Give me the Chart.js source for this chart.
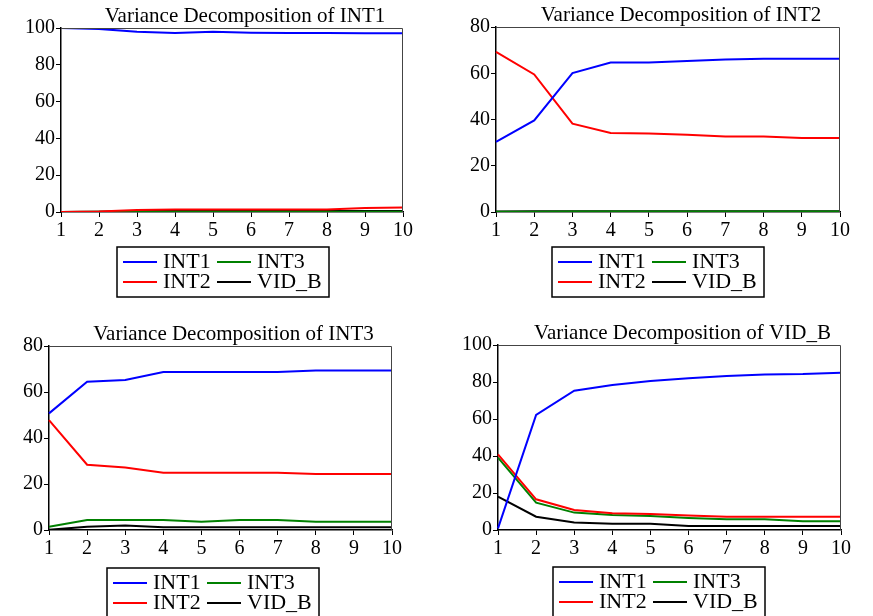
<!DOCTYPE html>
<html>
<head>
<meta charset="utf-8">
<script src="https://cdn.jsdelivr.net/npm/chart.js@4.4.1/dist/chart.umd.min.js"></script>
<style>
  body { margin: 0; background: #fff; }
  #wrap { position: relative; width: 873px; height: 616px; overflow: hidden; }
  canvas { position: absolute; }
</style>
</head>
<body>
<div id="wrap">
  <canvas id="c1" width="436" height="308" style="left:0;top:0"></canvas>
  <canvas id="c2" width="437" height="308" style="left:436px;top:0"></canvas>
  <canvas id="c3" width="436" height="308" style="left:0;top:308px"></canvas>
  <canvas id="c4" width="437" height="308" style="left:436px;top:308px"></canvas>
</div>
<script>
// periods on the x axis
const periods = ['1', '2', '3', '4', '5', '6', '7', '8', '9', '10'];
const seriesNames = ['INT1', 'INT2', 'INT3', 'VID_B'];
const seriesColors = ['#0000ff', '#ff0000', '#008000', '#000000'];

// Variance Decomposition of INT1
const int1_INT1 = [100, 99.5, 98.0, 97.3, 97.9, 97.4, 97.3, 97.3, 97.2, 97.1];
const int1_INT2 = [0, 0.3, 1.1, 1.3, 1.3, 1.3, 1.3, 1.4, 2.2, 2.4];
const int1_INT3 = [0, 0.1, 0.1, 0.2, 0.2, 0.2, 0.2, 0.2, 0.2, 0.2];
const int1_VIDB = [0, 0.2, 0.5, 0.5, 0.5, 0.5, 0.5, 0.5, 0.5, 0.5];

// Variance Decomposition of INT2
const int2_INT1 = [30.3, 39.6, 60.1, 64.6, 64.7, 65.3, 65.9, 66.3, 66.3, 66.3];
const int2_INT2 = [69.2, 59.5, 38.2, 34.2, 33.9, 33.4, 32.6, 32.6, 32.0, 32.0];
const int2_INT3 = [0.1, 0.1, 0.2, 0.2, 0.2, 0.2, 0.2, 0.2, 0.2, 0.2];
const int2_VIDB = [0.2, 0.3, 0.3, 0.3, 0.3, 0.3, 0.3, 0.3, 0.3, 0.3];

// Variance Decomposition of INT3
const int3_INT1 = [50.7, 64.5, 65.2, 68.7, 68.7, 68.7, 68.7, 69.3, 69.3, 69.3];
const int3_INT2 = [47.8, 28.4, 27.2, 24.9, 24.9, 24.9, 24.9, 24.3, 24.3, 24.3];
const int3_INT3 = [1.4, 4.3, 4.3, 4.3, 3.6, 4.3, 4.3, 3.6, 3.6, 3.6];
const int3_VIDB = [0.1, 1.4, 2.0, 1.2, 1.2, 1.2, 1.2, 1.2, 1.2, 1.2];

// Variance Decomposition of VID_B
const vidb_INT1 = [0.9, 62.2, 75.3, 78.4, 80.5, 82.0, 83.2, 84.1, 84.3, 85.0];
const vidb_INT2 = [40.9, 16.6, 10.8, 9.0, 8.6, 7.9, 7.2, 7.2, 7.2, 7.2];
const vidb_INT3 = [39.1, 14.8, 9.4, 8.1, 7.6, 6.5, 5.8, 5.8, 4.7, 4.7];
const vidb_VIDB = [18.0, 7.2, 4.0, 3.4, 3.4, 2.2, 2.2, 2.2, 2.2, 2.2];

const FONT = '"Liberation Serif", "Times New Roman", serif';

// draws frame, title and the boxed 2x2 legend
const panelDecor = {
    id: 'panelDecor',
    afterDraw(chart, args, opts) {
        const ctx = chart.ctx;
        const a = chart.chartArea;
        ctx.save();
        ctx.strokeStyle = '#444';
        ctx.lineWidth = 1;
        ctx.beginPath();
        ctx.moveTo(a.left, a.top + 0.5);
        ctx.lineTo(a.right - 0.5, a.top + 0.5);
        ctx.lineTo(a.right - 0.5, a.bottom);
        ctx.stroke();

        ctx.fillStyle = '#000';
        ctx.font = '21px ' + FONT;
        ctx.textAlign = 'center';
        ctx.textBaseline = 'alphabetic';
        ctx.fillText(opts.title, (a.left + a.right) / 2 + 13, a.top - 6.5);

        const bx = a.left + opts.legendDx;
        const by = a.bottom + opts.legendDy;
        ctx.strokeStyle = '#000';
        ctx.lineWidth = 1.5;
        ctx.strokeRect(bx, by, 212, 50);
        ctx.font = '22px ' + FONT;
        ctx.textAlign = 'left';
        chart.data.datasets.forEach((ds, i) => {
            const col = i >> 1, row = i & 1;
            const lx = bx + 6 + col * 94;
            const ly = by + 15 + row * 20;
            ctx.strokeStyle = ds.borderColor;
            ctx.lineWidth = 2;
            ctx.beginPath();
            ctx.moveTo(lx, ly);
            ctx.lineTo(lx + 34, ly);
            ctx.stroke();
            ctx.fillStyle = '#000';
            ctx.fillText(ds.label, lx + 40, ly + 6);
        });
        ctx.restore();
    }
};

function makePanel(id, title, yMax, series, padding, legendDx, legendDy){
    const ctx = document.getElementById(id).getContext('2d');
    return new Chart(ctx, {
        type: 'line',
        data: {
            labels: periods,
            datasets: series.map((vals, i) => ({
                label: seriesNames[i],
                data: vals,
                borderColor: seriesColors[i],
                backgroundColor: seriesColors[i],
                borderWidth: 2,
                pointRadius: 0,
                tension: 0
            }))
        },
        options: {
            responsive: false,
            animation: false,
            layout: { padding: padding },
            plugins: {
                legend: { display: false },
                tooltip: { enabled: false },
                panelDecor: { title: title, legendDx: legendDx, legendDy: legendDy }
            },
            scales: {
                x: {
                    offset: false,
                    afterFit: s => { s.height = 30; },
                    grid: { drawOnChartArea: false, drawTicks: true, tickLength: 5, color: '#000' },
                    border: { display: true, color: '#000', width: 1.5 },
                    ticks: { color: '#000', padding: 2, maxRotation: 0, autoSkip: false, font: { family: FONT, size: 20 } }
                },
                y: {
                    min: 0,
                    max: yMax,
                    afterFit: s => { s.width = 40; },
                    grid: { drawOnChartArea: false, drawTicks: true, tickLength: 5, color: '#000' },
                    border: { display: true, color: '#000', width: 1.5 },
                    ticks: { stepSize: 20, color: '#000', padding: 1, font: { family: FONT, size: 20 } }
                }
            }
        },
        plugins: [panelDecor]
    });
}

makePanel('c1', 'Variance Decomposition of INT1', 100,
    [int1_INT1, int1_INT2, int1_INT3, int1_VIDB],
    { left: 21, right: 33, top: 28, bottom: 66 }, 56, 35);
makePanel('c2', 'Variance Decomposition of INT2', 80,
    [int2_INT1, int2_INT2, int2_INT3, int2_VIDB],
    { left: 20, right: 33, top: 27, bottom: 66 }, 56, 35);
makePanel('c3', 'Variance Decomposition of INT3', 80,
    [int3_INT1, int3_INT2, int3_INT3, int3_VIDB],
    { left: 9, right: 44, top: 38, bottom: 56 }, 58, 38);
makePanel('c4', 'Variance Decomposition of VID_B', 100,
    [vidb_INT1, vidb_INT2, vidb_INT3, vidb_VIDB],
    { left: 22, right: 32, top: 37, bottom: 56 }, 55, 37);
</script>
</body>
</html>
